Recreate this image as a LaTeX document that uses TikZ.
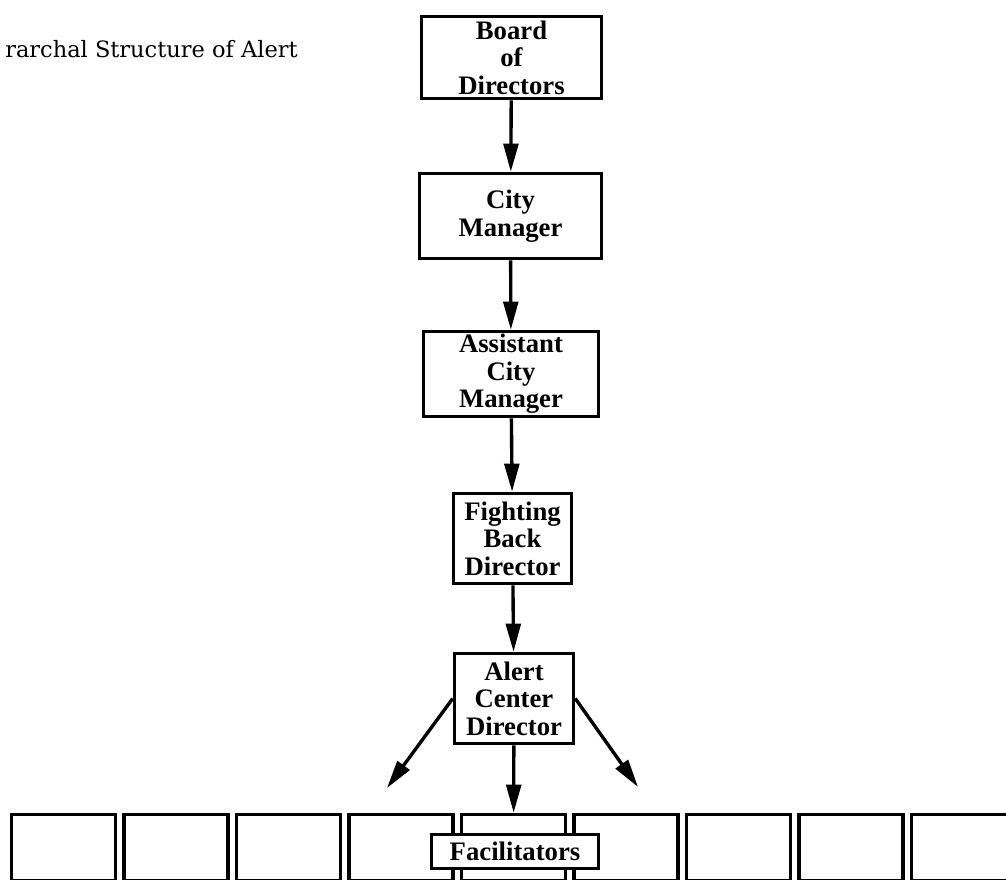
\documentclass[tikz,border=0pt]{standalone}
\usepackage{fontspec}
\setmainfont{Liberation Serif}
\newfontfamily\titlefont{DejaVu Serif}
\usetikzlibrary{positioning, arrows.meta}

\begin{document}
\begin{tikzpicture}[x=0.025cm,y=-0.025cm,
    post/.style={draw,line width=2.5pt,fill=white,inner sep=0pt,align=center,
        font=\fontsize{19}{19.5}\selectfont\bfseries},
    cell/.style={draw,line width=2.5pt,minimum width=2.6cm,minimum height=1.6625cm},
    arr/.style={line width=2.4pt,-{Triangle[length=20pt,width=10.5pt]}}]
  \useasboundingbox (0,0) rectangle (1006,880);
  \clip (0,0) rectangle (1006,880);
  \node[anchor=base west,inner sep=0pt,font=\titlefont\fontsize{16}{19}\selectfont]
        (title) at (5,58){rarchal Structure of Alert};
  \node[post,minimum width=4.5cm,minimum height=2.05cm] (board) at (511.5,57.5){Board\\of\\Directors};
  \node[post,minimum width=4.55cm,minimum height=2.125cm] (city) at (510.5,216){City\\Manager};
  \node[post,minimum width=4.375cm,minimum height=2.125cm] (asst) at (511,374){Assistant\\City\\Manager};
  \node[post,minimum width=2.95cm,minimum height=2.25cm] (fight) at (512.5,538.5){Fighting\\Back\\Director};
  \node[post,minimum width=2.975cm,minimum height=2.25cm] (alert) at (514,698.5){Alert\\Center\\Director};
  \foreach \i in {0,...,8}
    \node[cell] (fac\i) at ({63.5+112.5*\i},847.75){};
  \node[post,minimum width=4.175cm,minimum height=0.85cm] (facil) at (515,851.5){Facilitators};
  \coordinate (lefttip) at (387,788);
  \coordinate (righttip) at (638,787);
  \draw[arr] (board) -- (city);
  \draw[arr] (city) -- (asst);
  \draw[arr] (asst) -- (fight);
  \draw[arr] (fight) -- (alert);
  \draw[arr] (alert) -- (fac4);
  \draw[arr] (alert.west) -- (lefttip);
  \draw[arr] (alert.east) -- (righttip);
\end{tikzpicture}
\end{document}
